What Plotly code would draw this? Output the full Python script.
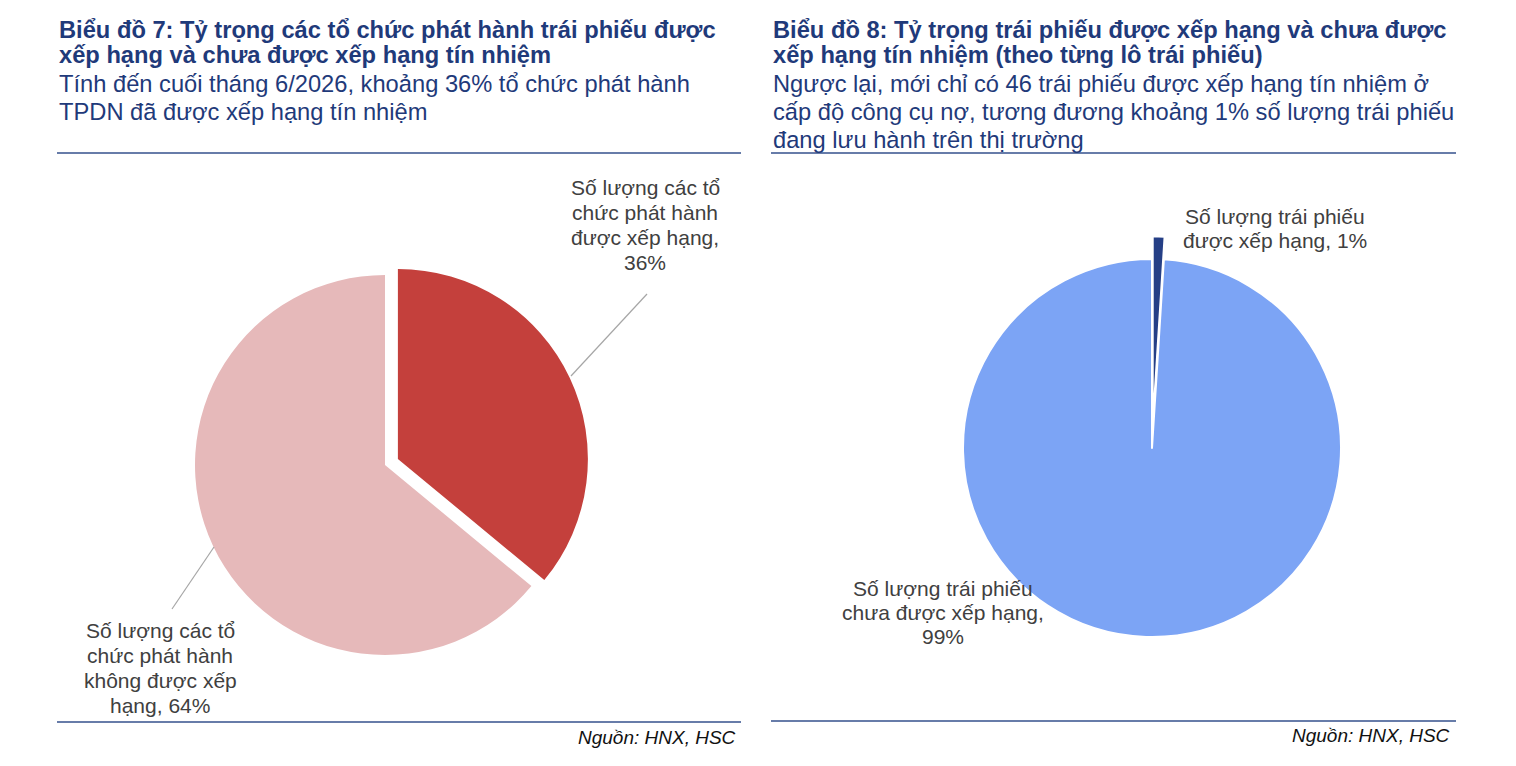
import plotly.graph_objects as go

# page body has an 8px margin, so the figure is 1500x750 placed at (8, 8)
W, H = 1500, 750
OFF = 8

# ---------------- data ----------------
c7_categories = ["Số lượng các tổ chức phát hành được xếp hạng",
                 "Số lượng các tổ chức phát hành không được xếp hạng"]
c7_values = [36, 64]
c7_label_lines = [["Số lượng các tổ", "chức phát hành", "được xếp hạng,", "{}%"],
                  ["Số lượng các tổ", "chức phát hành", "không được xếp", "hạng, {}%"]]

c8_categories = ["Số lượng trái phiếu được xếp hạng",
                 "Số lượng trái phiếu chưa được xếp hạng"]
c8_values = [1, 99]
c8_label_lines = [["Số lượng trái phiếu", "được xếp hạng, {}%"],
                  ["Số lượng trái phiếu", "chưa được xếp hạng,", "{}%"]]

c7_title = ["Biểu đồ 7: Tỷ trọng các tổ chức phát hành trái phiếu được",
            "xếp hạng và chưa được xếp hạng tín nhiệm"]
c7_sub = ["Tính đến cuối tháng 6/2026, khoảng 36% tổ chức phát hành",
          "TPDN đã được xếp hạng tín nhiệm"]
c8_title = ["Biểu đồ 8: Tỷ trọng trái phiếu được xếp hạng và chưa được",
            "xếp hạng tín nhiệm (theo từng lô trái phiếu)"]
c8_sub = ["Ngược lại, mới chỉ có 46 trái phiếu được xếp hạng tín nhiệm ở",
          "cấp độ công cụ nợ, tương đương khoảng 1% số lượng trái phiếu",
          "đang lưu hành trên thị trường"]
source = "Nguồn: HNX, HSC"

# ---------------- style ----------------
NAVY = "#1f3a7a"
RULE = "#34508c"
GREY_TXT = "#404040"
FONT = "Liberation Sans, Arial, sans-serif"


def px(x):
    return (x - OFF) / W


def py(y):
    return 1 - (y - OFF) / H


def domain(cx, cy, r, pull):
    half = r * (1 + pull)
    return dict(x=[px(cx - half), px(cx + half)], y=[py(cy + half), py(cy - half)])


fig = go.Figure()

fig.add_trace(go.Pie(
    labels=c7_categories, values=c7_values, sort=False, direction="clockwise",
    rotation=0, pull=[0.075, 0], textinfo="none", hoverinfo="label+percent",
    marker=dict(colors=["#c4403c", "#e6b9ba"], line=dict(color="white", width=0)),
    domain=domain(385, 465, 190, 0.075), showlegend=False))

fig.add_trace(go.Pie(
    labels=c8_categories, values=c8_values, sort=False, direction="clockwise",
    rotation=0, pull=[0.12, 0], textinfo="none", hoverinfo="label+percent",
    marker=dict(colors=["#253f86", "#7ca4f5"], line=dict(color="white", width=2)),
    domain=domain(1152, 448, 189, 0.12), showlegend=False))

ann = []


def text(x, y, s, size, color=NAVY, bold=False, xanchor="left", italic=False):
    if bold:
        s = "<b>" + s + "</b>"
    if italic:
        s = "<i>" + s + "</i>"
    ann.append(dict(x=px(x), y=py(y), xref="paper", yref="paper", text=s, showarrow=False,
                    xanchor=xanchor, yanchor="middle", align="left",
                    font=dict(family=FONT, size=size, color=color)))


for i, s in enumerate(c7_title):
    text(57, 30 + 25 * i, s, 23.7, bold=True)
for i, s in enumerate(c7_sub):
    text(57, 84 + 28 * i, s, 23.7)
for i, s in enumerate(c8_title):
    text(771, 30 + 25 * i, s, 23.7, bold=True)
for i, s in enumerate(c8_sub):
    text(771, 84 + 28 * i, s, 23.7)

text(738, 737, source, 19, color="#111111", xanchor="right", italic=True)
text(1452, 735, source, 19, color="#111111", xanchor="right", italic=True)


def label(cx, y0, lines, value, step=25):
    for i, s in enumerate(lines):
        text(cx, y0 + step * i, s.format(value), 21, color=GREY_TXT, xanchor="center")


# pie data labels
label(645, 187, c7_label_lines[0], c7_values[0])
label(160, 630, c7_label_lines[1], c7_values[1])
label(1275, 216, c8_label_lines[0], c8_values[0])
label(943, 588, c8_label_lines[1], c8_values[1], step=24)

shapes = []


def hline(x0, x1, y, color=RULE, width=1.5):
    shapes.append(dict(type="line", xref="paper", yref="paper", x0=px(x0), x1=px(x1),
                       y0=py(y), y1=py(y), line=dict(color=color, width=width)))


def seg(x0, y0, x1, y1):
    shapes.append(dict(type="line", xref="paper", yref="paper", x0=px(x0), x1=px(x1),
                       y0=py(y0), y1=py(y1), line=dict(color="#a6a6a6", width=1.2)))


hline(57, 741, 153)
hline(771, 1456, 153)
hline(57, 741, 722)
hline(771, 1456, 721)
seg(647, 294, 571, 376)
seg(214, 547, 172, 609)

fig.update_layout(width=W, height=H, margin=dict(l=0, r=0, t=0, b=0),
                  paper_bgcolor="white", plot_bgcolor="white",
                  annotations=ann, shapes=shapes)

fig.write_html("out.html")
